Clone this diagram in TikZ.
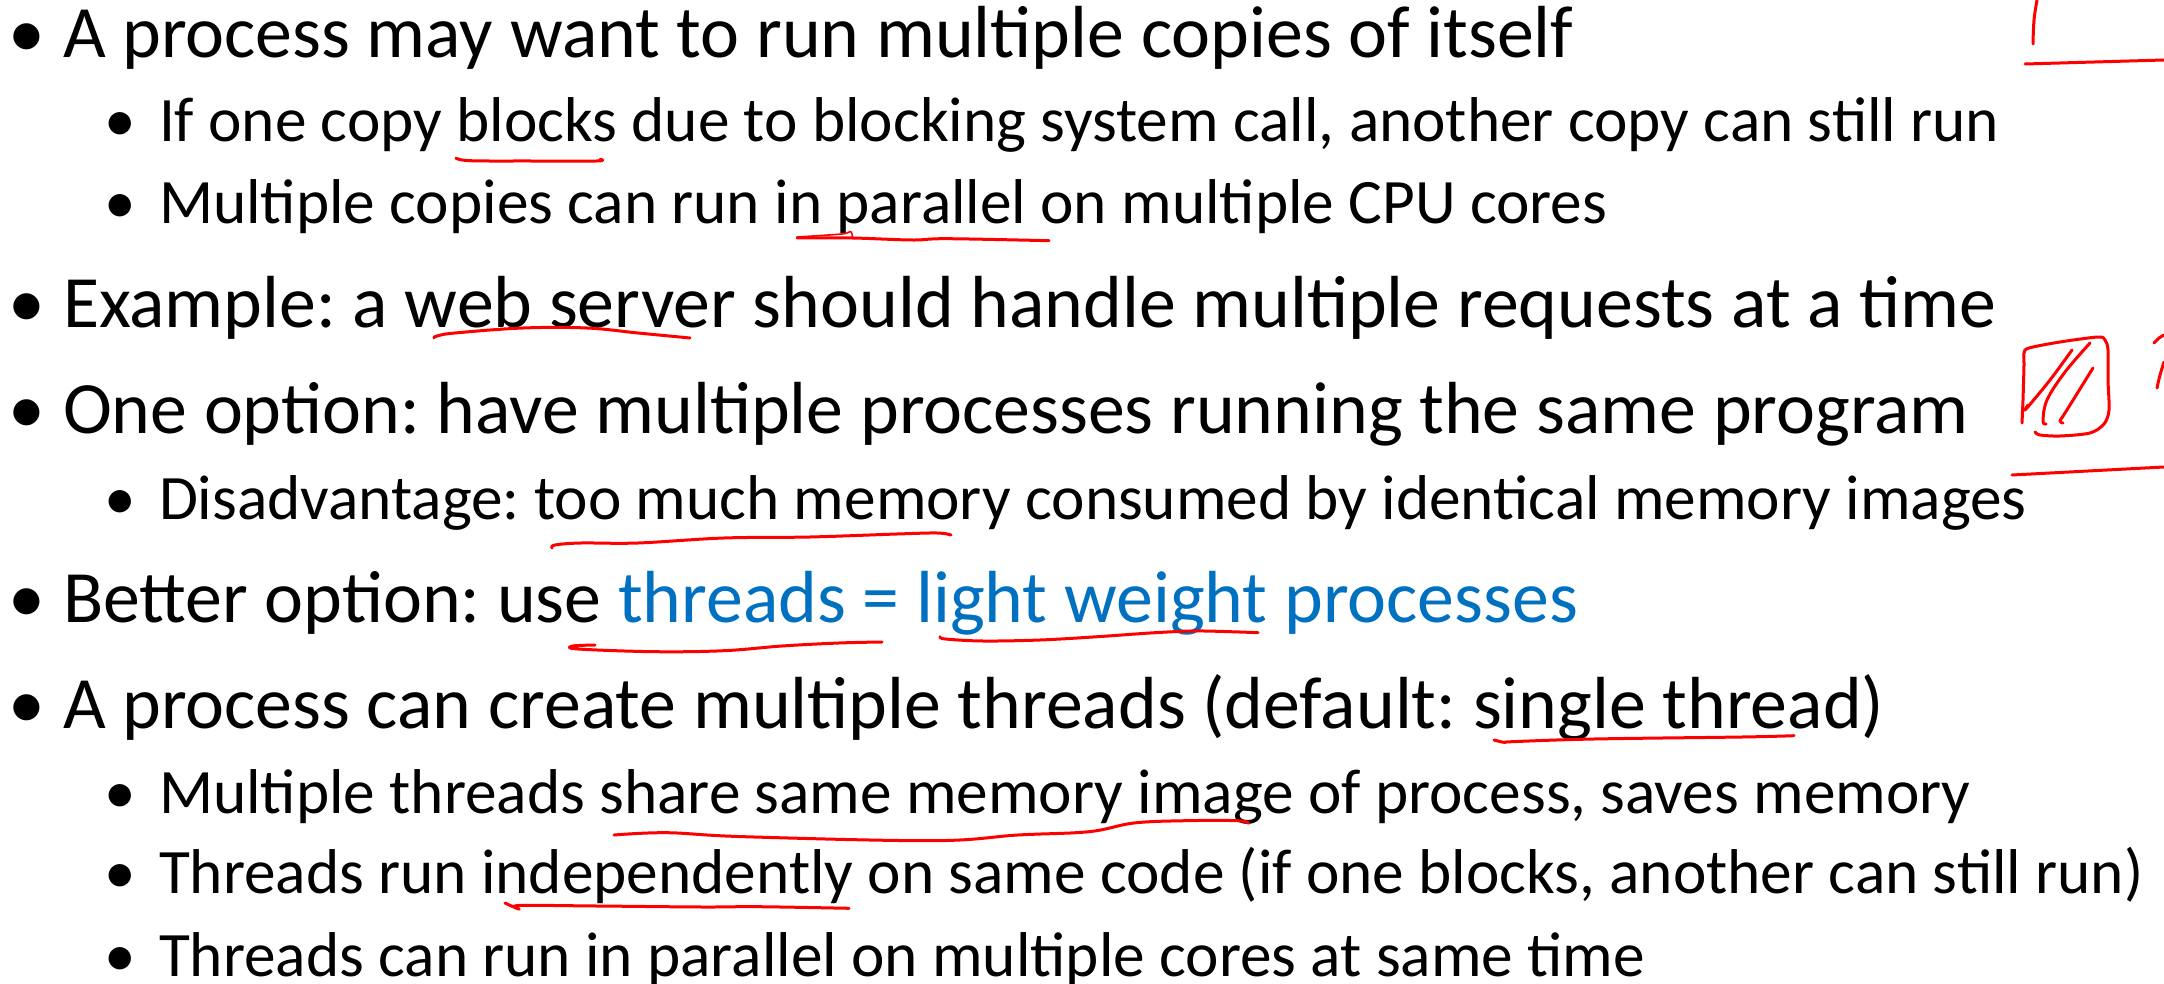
\documentclass[tikz,border=0pt]{standalone}
\usepackage{fontspec}
\setmainfont{Carlito}
\frenchspacing
\definecolor{inkred}{RGB}{255,0,0}
\definecolor{hl}{RGB}{0,112,192}
\tikzset{
  lvlone/.style={anchor=base west, inner sep=0pt, outer sep=0pt, font=\fontsize{36.9}{40}\selectfont},
  lvltwo/.style={anchor=base west, inner sep=0pt, outer sep=0pt, font=\fontsize{31.65}{36}\selectfont},
  dotone/.style={anchor=base, inner sep=0pt, outer sep=0pt, font=\fontsize{36.9}{40}\selectfont},
  dottwo/.style={anchor=base, inner sep=0pt, outer sep=0pt, font=\fontsize{31.65}{36}\selectfont},
  ink/.style={draw=inkred, line width=1.5pt, line cap=round, line join=round},
}
\begin{document}
\begin{tikzpicture}[x=0.5pt, y=-0.5pt]
\useasboundingbox[fill=white] (0,0) rectangle (2164,984);

% bullets
\node[dotone] (d1)  at (26.5,58)  {•};
\node[dottwo] (d2)  at (120,142)  {•};
\node[dottwo] (d3)  at (120,224)  {•};
\node[dotone] (d4)  at (26.5,328) {•};
\node[dotone] (d5)  at (26.5,433) {•};
\node[dottwo] (d6)  at (120,519)  {•};
\node[dotone] (d7)  at (26.5,622) {•};
\node[dotone] (d8)  at (26.5,728) {•};
\node[dottwo] (d9)  at (120,813)  {•};
\node[dottwo] (d10) at (120,893)  {•};
\node[dottwo] (d11) at (120,976)  {•};

% text lines
\node[lvlone] (t1)  at (63,58)   {A process may want to run multiple copies of itself};
\node[lvltwo] (t2)  at (159,142) {If one copy blocks due to blocking system call, another copy can still run};
\node[lvltwo] (t3)  at (159,224) {Multiple copies can run in parallel on multiple CPU cores};
\node[lvlone] (t4)  at (63,328)  {Example: a web server should handle multiple requests at a time};
\node[lvlone] (t5)  at (63,433)  {One option: have multiple processes running the same program};
\node[lvltwo] (t6)  at (159,519) {Disadvantage: too much memory consumed by identical memory images};
\node[lvlone] (t7)  at (63,622)  {Better option: use \textcolor{hl}{threads = light weight processes}};
\node[lvlone] (t8)  at (63,728)  {A process can create multiple threads (default: single thread)};
\node[lvltwo] (t9)  at (159,813) {Multiple threads share same memory image of process, saves memory};
\node[lvltwo] (t10) at (159,893) {Threads run independently on same code (if one blocks, another can still run)};
\node[lvltwo] (t11) at (159,976) {Threads can run in parallel on multiple cores at same time};

% pen strokes: underlines
\draw[ink] plot[smooth, tension=0.6] coordinates {(456,158) (470,160.7) (530,161) (596.5,161) (600,159.3)};
\draw[ink, line width=0.8pt] plot[smooth, tension=0.5] coordinates {(797,237) (842,234) (850.5,231.5) (852.6,237)};
\draw[ink] plot[smooth, tension=0.6] coordinates {(797,238) (852,238) (912,240) (947,238.7) (1049,240.7)};
\draw[ink] plot[smooth, tension=0.6] coordinates {(434,338) (437,336) (455,333) (523,328) (587,328) (638,333) (690,338)};
\draw[ink] plot[smooth, tension=0.6] coordinates {(552,548) (555,545) (581,543) (638,543) (724,538) (810,537) (897,534) (937,533) (951,535)};
\draw[ink] plot[smooth, tension=0.6] coordinates {(595,645) (573,646) (578,649) (655,651.7) (724,650.7) (782,646) (839,643) (882,642)};
\draw[ink] plot[smooth, tension=0.6] coordinates {(940,636.7) (945.5,639) (983,641) (1040,640) (1097.5,636.7) (1155,632.7) (1195,631) (1230,631.7) (1258,632.7)};
\draw[ink] plot[smooth, tension=0.6] coordinates {(1494,740) (1505,742.5) (1512,741.7) (1594,739) (1742,737) (1794,735.7)};
\draw[ink] plot[smooth, tension=0.6] coordinates {(614,835) (667,832.7) (744,836.7) (933,840.7) (1018,835) (1089,831.7) (1134,823) (1185.6,820.7) (1237.6,820.7) (1248.7,823.3)};
\draw[ink] plot[smooth, tension=0.6] coordinates {(505,903) (519,909) (519,905.5) (596.5,906) (702,907) (758,906.7) (849,908.3)};

% pen strokes: right margin
\draw[ink] plot[smooth, tension=0.6] coordinates {(2037,0) (2034,20) (2033,44)};
\draw[ink] (2025,64) -- (2164,60);
\draw[ink] plot[smooth, tension=0.5] coordinates {(2022,423) (2023,400) (2024,365) (2024,353) (2029,348) (2060,342) (2098,337) (2105,340) (2108,350) (2108,380) (2109,410) (2104,424) (2090,433) (2060,436) (2040,435) (2035,432)};
\draw[ink] plot[smooth, tension=0.6] coordinates {(2028,405) (2026,409) (2050,380) (2072,350)};
\draw[ink] plot[smooth, tension=0.6] coordinates {(2090,343) (2065,372) (2047,400) (2043,421) (2046,424)};
\draw[ink] plot[smooth, tension=0.6] coordinates {(2093,368) (2065,413) (2060,421) (2063,423)};
\draw[ink] plot[smooth, tension=0.6] coordinates {(2154,343) (2159,338) (2164,335)};
\draw[ink] plot[smooth, tension=0.6] coordinates {(2164,362) (2160,375) (2157,388)};
\draw[ink] (2012,475) -- (2164,467);
\end{tikzpicture}
\end{document}
